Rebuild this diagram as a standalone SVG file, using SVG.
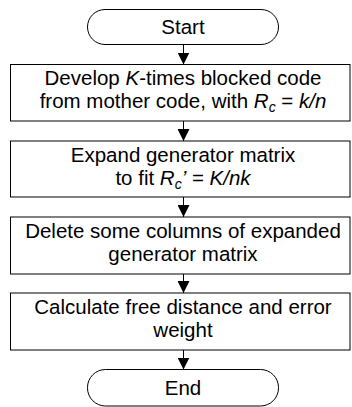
<svg xmlns="http://www.w3.org/2000/svg" width="352" height="407" viewBox="0 0 352 407">
<defs>
<style>
.box{fill:#fff;stroke:#000;stroke-width:1}
.t{font-family:"Liberation Sans",Arial,sans-serif;font-size:20.5px;fill:#000;text-anchor:middle}
.i{font-style:italic}
.sub{font-size:14px;font-style:italic}
.conn{stroke:#000;stroke-width:1;fill:none;marker-end:url(#ah)}
</style>
<marker id="ah" markerUnits="userSpaceOnUse" markerWidth="12" markerHeight="12" refX="12" refY="6" orient="auto" viewBox="0 0 12 12">
<path d="M0,0 L12,6 L0,12 z" fill="#000"/>
</marker>
</defs>
<rect width="352" height="407" fill="#fff"/>
<g id="connectors">
<line class="conn" x1="183.5" y1="44.5" x2="183.5" y2="64.5"/>
<line class="conn" x1="183.5" y1="121" x2="183.5" y2="141"/>
<line class="conn" x1="183.5" y1="197" x2="183.5" y2="217"/>
<line class="conn" x1="183.5" y1="274" x2="183.5" y2="293"/>
<line class="conn" x1="183.5" y1="350" x2="183.5" y2="369.5"/>
</g>
<g id="start">
<rect class="box" x="87.5" y="9.5" width="191" height="35" rx="17.5" ry="17.5"/>
<text class="t" x="183" y="33.5">Start</text>
</g>
<g id="step1">
<rect class="box" x="10.5" y="64.5" width="339.5" height="56.5"/>
<text class="t" x="183" y="85"><tspan x="183" y="85">Develop <tspan class="i">K</tspan>-times blocked code</tspan><tspan x="183" y="108">from mother code, with <tspan class="i">R</tspan><tspan class="sub" dy="4">c</tspan><tspan dy="-4"> = </tspan><tspan class="i">k/n</tspan></tspan></text>
</g>
<g id="step2">
<rect class="box" x="10.5" y="141" width="339.5" height="56"/>
<text class="t" x="183" y="161.5"><tspan x="183" y="161.5">Expand generator matrix</tspan><tspan x="183" y="184.5">to fit <tspan class="i">R</tspan><tspan class="sub" dy="4">c</tspan><tspan class="i" dy="-4">’</tspan> = <tspan class="i">K/nk</tspan></tspan></text>
</g>
<g id="step3">
<rect class="box" x="10.5" y="217" width="339.5" height="57"/>
<text class="t" x="183" y="237.5"><tspan x="183" y="237.5">Delete some columns of expanded</tspan><tspan x="183" y="260.5">generator matrix</tspan></text>
</g>
<g id="step4">
<rect class="box" x="10.5" y="293" width="339.5" height="57"/>
<text class="t" x="183" y="313.5"><tspan x="183" y="313.5">Calculate free distance and error</tspan><tspan x="183" y="336.5">weight</tspan></text>
</g>
<g id="end">
<rect class="box" x="87.5" y="369.5" width="191" height="36.5" rx="18" ry="18"/>
<text class="t" x="183" y="395">End</text>
</g>
</svg>
